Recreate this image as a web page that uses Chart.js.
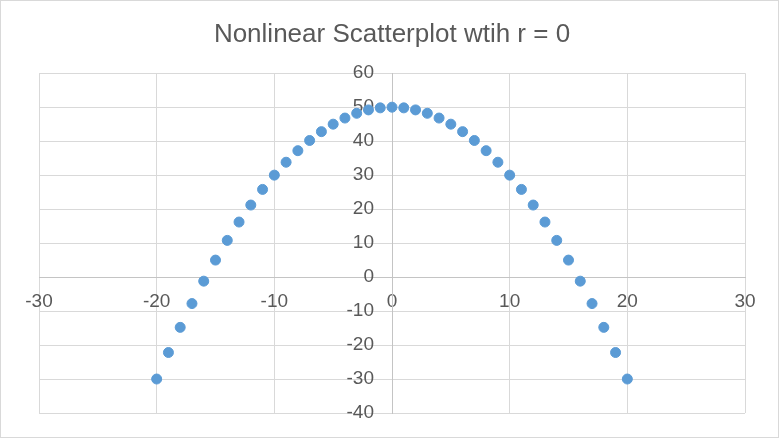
<!DOCTYPE html>
<html><head><meta charset="utf-8">
<script src="https://cdn.jsdelivr.net/npm/chart.js@4/dist/chart.umd.min.js"></script>
<style>
html,body{margin:0;padding:0;background:#fff;}
#wrap{width:779px;height:438px;box-sizing:border-box;border:1px solid #d9d9d9;position:relative;}
canvas{display:block;}
</style></head><body>
<div id="wrap"><canvas id="c" width="777" height="436"></canvas></div>
<script>
const chartTitle = "Nonlinear Scatterplot wtih r = 0";
const xValues = [-20,-19,-18,-17,-16,-15,-14,-13,-12,-11,-10,-9,-8,-7,-6,-5,-4,-3,-2,-1,0,1,2,3,4,5,6,7,8,9,10,11,12,13,14,15,16,17,18,19,20];
const yValues = [-30,-22.2,-14.8,-7.8,-1.2,5,10.8,16.2,21.2,25.8,30,33.8,37.2,40.2,42.8,45,46.8,48.2,49.2,49.8,50,49.8,49.2,48.2,46.8,45,42.8,40.2,37.2,33.8,30,25.8,21.2,16.2,10.8,5,-1.2,-7.8,-14.8,-22.2,-30];
const xRange = [-30, 30];
const yRange = [-40, 60];
const tickStep = 10;

const points = xValues.map((x, i) => ({x: x, y: yValues[i]}));
const tickFont = {family: "'Liberation Sans', Arial, sans-serif", size: 19};
const gray = '#595959';

function noSpace(s) {
  if (s.isHorizontal()) { s.height = 0; } else { s.width = 0; }
  s.paddingTop = 0; s.paddingBottom = 0; s.paddingLeft = 0; s.paddingRight = 0;
}

new Chart(document.getElementById('c'), {
  type: 'scatter',
  data: {datasets: [{
    data: points,
    backgroundColor: '#5b9bd5',
    borderColor: '#5b9bd5',
    pointRadius: 5,
    pointHoverRadius: 5
  }]},
  options: {
    responsive: false,
    animation: false,
    layout: {padding: {top: 0, left: 38, right: 33, bottom: 24}},
    plugins: {
      legend: {display: false},
      tooltip: {enabled: false},
      title: {display: true, text: chartTitle, color: gray,
        font: {family: "'Liberation Sans', Arial, sans-serif", size: 26, weight: 'normal'},
        padding: {top: 18, bottom: 23}}
    },
    scales: {
      x: {
        type: 'linear', min: xRange[0], max: xRange[1],
        position: {y: 0},
        afterFit: noSpace,
        grid: {color: '#d9d9d9', drawTicks: false},
        border: {display: true, color: '#c4c4c4'},
        ticks: {stepSize: tickStep, color: gray, font: tickFont, padding: 13, maxRotation: 0}
      },
      y: {
        type: 'linear', min: yRange[0], max: yRange[1],
        position: 'center',
        afterFit: noSpace,
        grid: {color: '#d9d9d9', drawTicks: false},
        border: {display: true, color: '#c4c4c4'},
        ticks: {stepSize: tickStep, color: gray, font: tickFont, padding: 18}
      }
    }
  }
});
</script>
</body></html>
